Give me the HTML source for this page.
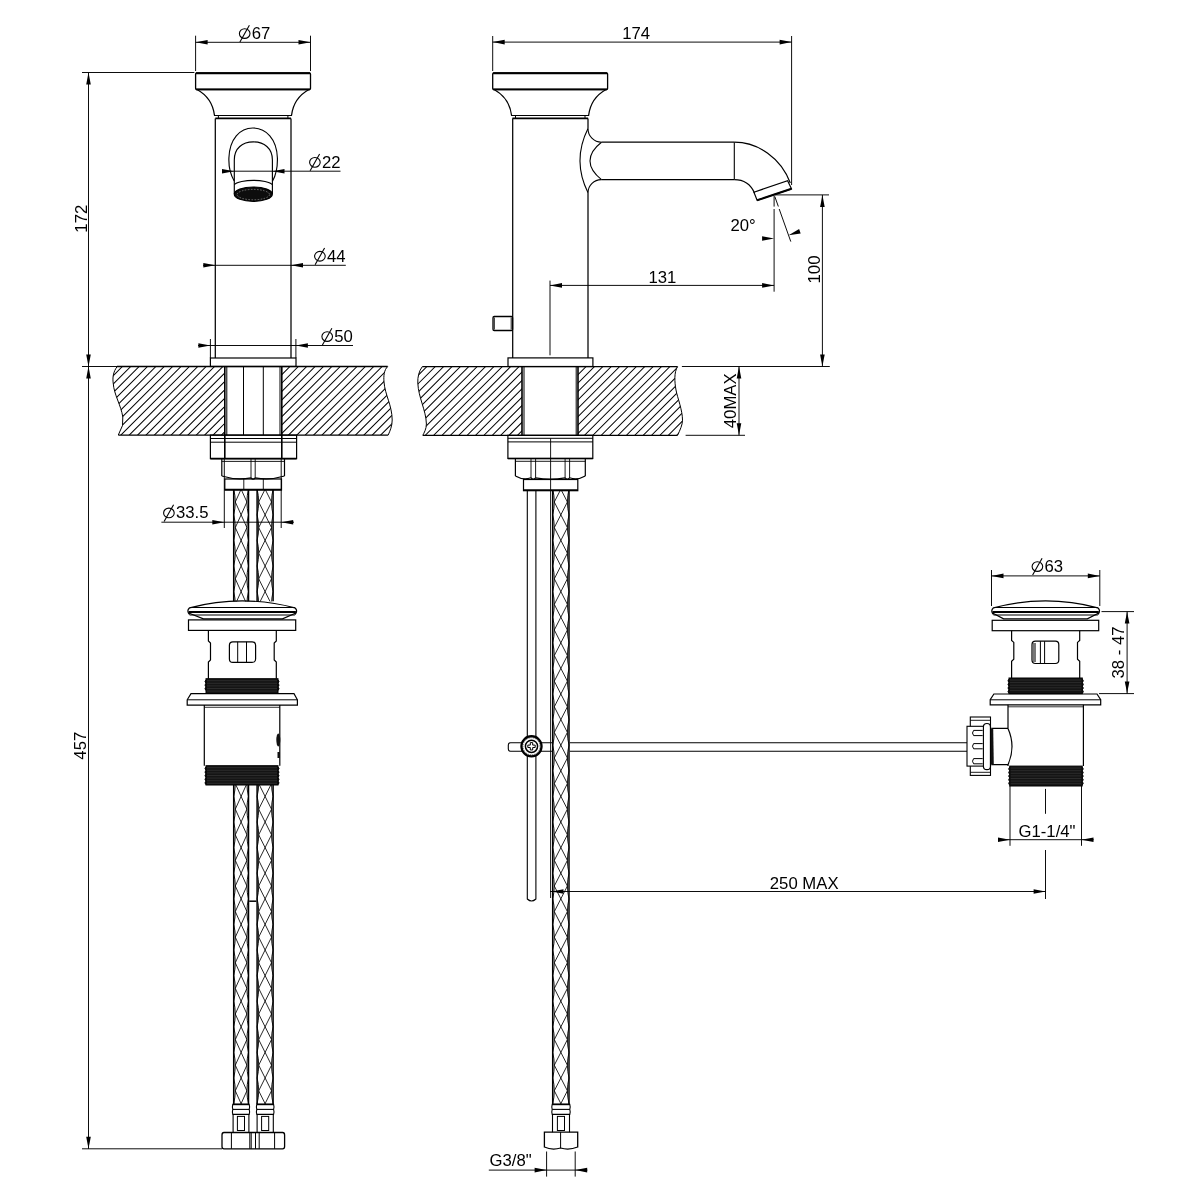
<!DOCTYPE html>
<html><head><meta charset="utf-8"><style>
html,body{margin:0;padding:0;background:#fff;}
svg{display:block;will-change:transform;}
text{font-family:"Liberation Sans",sans-serif;fill:#000;stroke:none;}
</style></head><body>
<svg width="1195" height="1195" viewBox="0 0 1195 1195" stroke="#000" stroke-linecap="butt">
<rect x="0" y="0" width="1195" height="1195" fill="#fff" stroke="none"/>
<rect x="195.60" y="73.00" width="114.90" height="16.50" stroke-width="1.3" fill="none" rx="1"/>
<line x1="196.00" y1="73.20" x2="310.00" y2="73.20" stroke-width="2.0" />
<line x1="196.00" y1="89.30" x2="310.00" y2="89.30" stroke-width="1.8" />
<path d="M197,89.5 C207,95 213,103 214.5,115.5" stroke-width="1.25" fill="none" />
<path d="M309,89.5 C299,95 293,103 291.5,115.5" stroke-width="1.25" fill="none" />
<line x1="214.00" y1="115.50" x2="292.00" y2="115.50" stroke-width="1.1" />
<line x1="218.40" y1="115.50" x2="218.40" y2="118.20" stroke-width="1.0" />
<line x1="287.90" y1="115.50" x2="287.90" y2="118.20" stroke-width="1.0" />
<line x1="215.30" y1="118.40" x2="291.00" y2="118.40" stroke-width="1.8" />
<line x1="215.30" y1="118.40" x2="215.30" y2="358.00" stroke-width="1.25" />
<line x1="291.00" y1="118.40" x2="291.00" y2="358.00" stroke-width="1.25" />
<path d="M234.2,181 C230,174 228.6,166 228.9,158 C229.5,139 240,128 252.8,128 C266,128 276.8,139 277.4,158 C277.6,166 276.4,174 272.6,181" stroke-width="1.15" fill="none" />
<path d="M234.3,181 L234.3,160 C234.3,148 242.5,141.9 253.3,141.9 C264,141.9 272.4,148 272.4,160 L272.4,181" stroke-width="1.15" fill="none" />
<path d="M234.3,184.8 C236,182 246,180.3 253.3,180.3 C261,180.3 270.5,182 272.4,184.8" stroke-width="1.15" fill="none" />
<path d="M234.3,181 L234.3,194 M272.4,181 L272.4,194" stroke-width="1.15" fill="none" />
<ellipse cx="253.3" cy="194.2" rx="19.0" ry="7.2" stroke-width="1.2" fill="#0d0d0d"/>
<ellipse cx="253.3" cy="194.6" rx="16.2" ry="5.2" stroke="#aaa" stroke-width="0.6" stroke-dasharray="1.6 1.4" fill="none"/>
<line x1="195.60" y1="35.70" x2="195.60" y2="71.00" stroke-width="0.95" />
<line x1="310.50" y1="35.70" x2="310.50" y2="71.00" stroke-width="0.95" />
<line x1="195.60" y1="42.30" x2="310.50" y2="42.30" stroke-width="0.95" />
<polygon points="195.60,42.30 207.60,40.00 207.60,44.60" fill="#000" stroke="none"/>
<polygon points="310.50,42.30 298.50,44.60 298.50,40.00" fill="#000" stroke="none"/>
<ellipse cx="244.70" cy="33.55" rx="5.3" ry="4.85" stroke-width="1.1" fill="none"/>
<line x1="239.90" y1="42.05" x2="249.40" y2="25.25" stroke-width="1.1" />
<text x="0" y="0" font-size="16" text-anchor="start" transform="translate(251.70 38.80) scale(1.045 1)" >67</text>
<line x1="222.00" y1="171.20" x2="340.50" y2="171.20" stroke-width="0.95" />
<polygon points="234.00,171.20 222.00,173.50 222.00,168.90" fill="#000" stroke="none"/>
<polygon points="272.50,171.20 284.50,168.90 284.50,173.50" fill="#000" stroke="none"/>
<ellipse cx="314.90" cy="162.35" rx="5.3" ry="4.85" stroke-width="1.1" fill="none"/>
<line x1="310.10" y1="170.85" x2="319.60" y2="154.05" stroke-width="1.1" />
<text x="0" y="0" font-size="16" text-anchor="start" transform="translate(321.90 167.60) scale(1.045 1)" >22</text>
<line x1="203.00" y1="265.30" x2="345.80" y2="265.30" stroke-width="0.95" />
<polygon points="215.30,265.30 203.30,267.60 203.30,263.00" fill="#000" stroke="none"/>
<polygon points="291.00,265.30 303.00,263.00 303.00,267.60" fill="#000" stroke="none"/>
<ellipse cx="319.90" cy="256.25" rx="5.3" ry="4.85" stroke-width="1.1" fill="none"/>
<line x1="315.10" y1="264.75" x2="324.60" y2="247.95" stroke-width="1.1" />
<text x="0" y="0" font-size="16" text-anchor="start" transform="translate(326.90 261.50) scale(1.045 1)" >44</text>
<line x1="198.00" y1="345.50" x2="353.00" y2="345.50" stroke-width="0.95" />
<line x1="210.40" y1="339.00" x2="210.40" y2="358.00" stroke-width="0.95" />
<line x1="295.90" y1="339.00" x2="295.90" y2="358.00" stroke-width="0.95" />
<polygon points="210.40,345.50 198.40,347.80 198.40,343.20" fill="#000" stroke="none"/>
<polygon points="295.90,345.50 307.90,343.20 307.90,347.80" fill="#000" stroke="none"/>
<ellipse cx="327.20" cy="336.55" rx="5.3" ry="4.85" stroke-width="1.1" fill="none"/>
<line x1="322.40" y1="345.05" x2="331.90" y2="328.25" stroke-width="1.1" />
<text x="0" y="0" font-size="16" text-anchor="start" transform="translate(334.20 341.80) scale(1.045 1)" >50</text>
<rect x="210.40" y="358.00" width="85.60" height="8.50" stroke-width="1.2" fill="none"/>
<line x1="82.00" y1="72.50" x2="194.40" y2="72.50" stroke-width="0.95" />
<line x1="88.50" y1="72.50" x2="88.50" y2="1148.80" stroke-width="0.95" />
<polygon points="88.50,72.50 90.80,84.50 86.20,84.50" fill="#000" stroke="none"/>
<polygon points="88.50,366.50 86.20,354.50 90.80,354.50" fill="#000" stroke="none"/>
<polygon points="88.50,366.50 90.80,378.50 86.20,378.50" fill="#000" stroke="none"/>
<polygon points="88.50,1148.80 86.20,1136.80 90.80,1136.80" fill="#000" stroke="none"/>
<text x="0" y="0" font-size="16" text-anchor="middle" transform="translate(86.50 218.70) rotate(-90) scale(1.045 1)" >172</text>
<text x="0" y="0" font-size="16" text-anchor="middle" transform="translate(86.30 745.70) rotate(-90) scale(1.045 1)" >457</text>
<line x1="82.00" y1="366.50" x2="117.00" y2="366.50" stroke-width="0.95" />
<line x1="82.00" y1="1148.80" x2="222.00" y2="1148.80" stroke-width="0.95" />
<clipPath id="slabF"><path d="M117,366.5 L224.8,366.5 L224.8,435 L118.3,435 L122.5,425.5 L122.8,417 C121,405 114,395 113.2,383 C112.5,378 113,372 117.2,366.5 Z M281.5,366.5 L387.7,366.5 C384,370 383.5,376 384,382 C385,395 392,405 392.2,420 C392.2,426 390,431 388.2,435 L281.5,435 Z"/></clipPath>
<path d="M36.14,436.00L106.14,366.00M44.52,436.00L114.52,366.00M52.90,436.00L122.90,366.00M61.28,436.00L131.28,366.00M69.66,436.00L139.66,366.00M78.04,436.00L148.04,366.00M86.42,436.00L156.42,366.00M94.80,436.00L164.80,366.00M103.18,436.00L173.18,366.00M111.56,436.00L181.56,366.00M119.94,436.00L189.94,366.00M128.32,436.00L198.32,366.00M136.70,436.00L206.70,366.00M145.08,436.00L215.08,366.00M153.46,436.00L223.46,366.00M161.84,436.00L231.84,366.00M170.22,436.00L240.22,366.00M178.60,436.00L248.60,366.00M186.98,436.00L256.98,366.00M195.36,436.00L265.36,366.00M203.74,436.00L273.74,366.00M212.12,436.00L282.12,366.00M220.50,436.00L290.50,366.00M228.88,436.00L298.88,366.00M237.26,436.00L307.26,366.00M245.64,436.00L315.64,366.00M254.02,436.00L324.02,366.00M262.40,436.00L332.40,366.00M270.78,436.00L340.78,366.00M279.16,436.00L349.16,366.00M287.54,436.00L357.54,366.00M295.92,436.00L365.92,366.00M304.30,436.00L374.30,366.00M312.68,436.00L382.68,366.00M321.06,436.00L391.06,366.00M329.44,436.00L399.44,366.00M337.82,436.00L407.82,366.00M346.20,436.00L416.20,366.00M354.58,436.00L424.58,366.00M362.96,436.00L432.96,366.00M371.34,436.00L441.34,366.00M379.72,436.00L449.72,366.00M388.10,436.00L458.10,366.00" stroke-width="1.05" fill="none" clip-path="url(#slabF)"/>
<path d="M117.2,366.5 C113,372 112.5,378 113.2,383 C114,395 121,405 122.8,417 L122.5,425.5 L118.3,435" stroke-width="1.0" fill="none" />
<path d="M387.7,366.5 C384,370 383.5,376 384,382 C385,395 392,405 392.2,420 C392.2,426 390,431 388.2,435" stroke-width="1.0" fill="none" />
<line x1="117.00" y1="366.50" x2="387.70" y2="366.50" stroke-width="1.3" />
<line x1="118.30" y1="435.10" x2="388.20" y2="435.10" stroke-width="1.3" />
<line x1="224.80" y1="366.50" x2="224.80" y2="458.60" stroke-width="1.6" />
<line x1="226.80" y1="366.50" x2="226.80" y2="435.00" stroke-width="1.0" />
<line x1="280.00" y1="366.50" x2="280.00" y2="435.00" stroke-width="1.0" />
<line x1="281.80" y1="366.50" x2="281.80" y2="458.60" stroke-width="1.6" />
<line x1="243.50" y1="366.50" x2="243.50" y2="435.00" stroke-width="1.0" />
<line x1="263.30" y1="366.50" x2="263.30" y2="435.00" stroke-width="1.0" />
<rect x="210.40" y="435.10" width="86.20" height="23.50" stroke-width="1.2" fill="none"/>
<line x1="210.40" y1="438.50" x2="296.60" y2="438.50" stroke-width="1.0" />
<line x1="210.40" y1="442.20" x2="296.60" y2="442.20" stroke-width="1.0" />
<line x1="210.40" y1="458.60" x2="296.60" y2="458.60" stroke-width="1.6" />
<path d="M221.8,458.6 L221.8,476 M284.5,458.6 L284.5,476" stroke-width="1.2" fill="none" />
<line x1="221.80" y1="461.40" x2="284.50" y2="461.40" stroke-width="0.9" />
<path d="M221.8,476 Q236.40,480.50 251.00,477.80 Q253.10,480.50 255.20,477.80 Q269.85,480.50 284.50,476.00" stroke-width="1.2" fill="none" />
<line x1="251.00" y1="458.60" x2="251.00" y2="477.80" stroke-width="0.9" />
<line x1="255.20" y1="458.60" x2="255.20" y2="477.80" stroke-width="0.9" />
<rect x="224.80" y="479.00" width="56.70" height="11.00" stroke-width="1.2" fill="none"/>
<line x1="224.80" y1="489.60" x2="281.50" y2="489.60" stroke-width="1.8" />
<line x1="243.80" y1="479.00" x2="243.80" y2="490.00" stroke-width="0.9" />
<line x1="263.30" y1="479.00" x2="263.30" y2="490.00" stroke-width="0.9" />
<line x1="224.30" y1="458.60" x2="224.30" y2="528.00" stroke-width="0.95" />
<line x1="281.20" y1="458.60" x2="281.20" y2="528.00" stroke-width="0.95" />
<line x1="161.40" y1="522.20" x2="294.00" y2="522.20" stroke-width="0.95" />
<polygon points="224.30,522.20 212.30,524.50 212.30,519.90" fill="#000" stroke="none"/>
<polygon points="281.20,522.20 293.20,519.90 293.20,524.50" fill="#000" stroke="none"/>
<ellipse cx="168.90" cy="512.95" rx="5.3" ry="4.85" stroke-width="1.1" fill="none"/>
<line x1="164.10" y1="521.45" x2="173.60" y2="504.65" stroke-width="1.1" />
<text x="0" y="0" font-size="16" text-anchor="start" transform="translate(175.90 518.20) scale(1.045 1)" >33.5</text>
<clipPath id="hc2330_490"><rect x="232.00" y="490.00" width="18.20" height="111.50"/></clipPath>
<g clip-path="url(#hc2330_490)">
<path d="M235.30,450.80L246.90,476.40L235.30,502.00L246.90,527.60L235.30,553.20L246.90,578.80L235.30,604.40L246.90,630.00M246.90,450.80L235.30,476.40L246.90,502.00L235.30,527.60L246.90,553.20L235.30,578.80L246.90,604.40L235.30,630.00" stroke-width="0.85" fill="none" />
<path d="M233.70,463.60Q236.90,476.40 233.70,489.20M248.50,463.60Q245.30,476.40 248.50,489.20M233.70,489.20Q236.90,502.00 233.70,514.80M248.50,489.20Q245.30,502.00 248.50,514.80M233.70,514.80Q236.90,527.60 233.70,540.40M248.50,514.80Q245.30,527.60 248.50,540.40M233.70,540.40Q236.90,553.20 233.70,566.00M248.50,540.40Q245.30,553.20 248.50,566.00M233.70,566.00Q236.90,578.80 233.70,591.60M248.50,566.00Q245.30,578.80 248.50,591.60M233.70,591.60Q236.90,604.40 233.70,617.20M248.50,591.60Q245.30,604.40 248.50,617.20M233.70,617.20Q236.90,630.00 233.70,642.80M248.50,617.20Q245.30,630.00 248.50,642.80M233.70,642.80Q236.90,655.60 233.70,668.40M248.50,642.80Q245.30,655.60 248.50,668.40" stroke-width="0.9" fill="none" />
<line x1="233.70" y1="490.00" x2="233.70" y2="601.50" stroke-width="1.5" />
<line x1="248.50" y1="490.00" x2="248.50" y2="601.50" stroke-width="1.5" />
</g>
<clipPath id="hc2564_490"><rect x="255.40" y="490.00" width="19.40" height="111.50"/></clipPath>
<g clip-path="url(#hc2564_490)">
<path d="M258.70,450.80L271.50,476.40L258.70,502.00L271.50,527.60L258.70,553.20L271.50,578.80L258.70,604.40L271.50,630.00M271.50,450.80L258.70,476.40L271.50,502.00L258.70,527.60L271.50,553.20L258.70,578.80L271.50,604.40L258.70,630.00" stroke-width="0.85" fill="none" />
<path d="M257.10,463.60Q260.30,476.40 257.10,489.20M273.10,463.60Q269.90,476.40 273.10,489.20M257.10,489.20Q260.30,502.00 257.10,514.80M273.10,489.20Q269.90,502.00 273.10,514.80M257.10,514.80Q260.30,527.60 257.10,540.40M273.10,514.80Q269.90,527.60 273.10,540.40M257.10,540.40Q260.30,553.20 257.10,566.00M273.10,540.40Q269.90,553.20 273.10,566.00M257.10,566.00Q260.30,578.80 257.10,591.60M273.10,566.00Q269.90,578.80 273.10,591.60M257.10,591.60Q260.30,604.40 257.10,617.20M273.10,591.60Q269.90,604.40 273.10,617.20M257.10,617.20Q260.30,630.00 257.10,642.80M273.10,617.20Q269.90,630.00 273.10,642.80M257.10,642.80Q260.30,655.60 257.10,668.40M273.10,642.80Q269.90,655.60 273.10,668.40" stroke-width="0.9" fill="none" />
<line x1="257.10" y1="490.00" x2="257.10" y2="601.50" stroke-width="1.5" />
<line x1="273.10" y1="490.00" x2="273.10" y2="601.50" stroke-width="1.5" />
</g>
<path d="M189.6,607.8 Q242.25,594 294.9,607.8" stroke-width="1.2" fill="none" />
<path d="M189.6,607.8 Q186.1,611 189.6,614.6 M294.9,607.8 Q298.4,611 294.9,614.6" stroke-width="1.2" fill="none" />
<line x1="189.60" y1="607.50" x2="294.90" y2="607.50" stroke-width="1.0" />
<line x1="188.60" y1="612.10" x2="295.90" y2="612.10" stroke-width="2.0" />
<line x1="189.60" y1="615.00" x2="294.90" y2="615.00" stroke-width="1.0" />
<path d="M188.6,613 L203.4,618.8 L282.5,618.8 L295.9,613" stroke-width="1.2" fill="none" />
<rect x="188.50" y="619.90" width="107.20" height="10.50" stroke-width="1.2" fill="none"/>
<path d="M208.4,630.4 L208.4,641 L210.5,643 L210.5,660 L208.4,662 L208.4,678.7 M276.3,630.4 L276.3,641 L274.2,643 L274.2,660 L276.3,662 L276.3,678.7" stroke-width="1.2" fill="none" />
<rect x="229.40" y="641.80" width="26.20" height="20.60" stroke-width="1.2" fill="none" rx="3.5"/>
<line x1="237.70" y1="641.80" x2="237.70" y2="662.40" stroke-width="1.0" />
<line x1="246.50" y1="641.80" x2="246.50" y2="662.40" stroke-width="1.0" />
<path d="M206.00,679.70 Q203.80,681.50 206.00,683.30 M278.00,679.70 Q280.20,681.50 278.00,683.30 M206.00,683.30 Q203.80,685.10 206.00,686.90 M278.00,683.30 Q280.20,685.10 278.00,686.90 M206.00,686.90 Q203.80,688.70 206.00,690.50 M278.00,686.90 Q280.20,688.70 278.00,690.50 " fill="#1a1a1a" stroke="#000" stroke-width="0.8"/>
<rect x="206.00" y="678.70" width="72.00" height="14.10" fill="#141414" stroke="#000" stroke-width="1"/>
<line x1="207.00" y1="680.70" x2="277.00" y2="680.70" stroke="#3a3a3a" stroke-width="0.6"/>
<line x1="207.00" y1="683.30" x2="277.00" y2="683.30" stroke="#3a3a3a" stroke-width="0.6"/>
<line x1="207.00" y1="685.90" x2="277.00" y2="685.90" stroke="#3a3a3a" stroke-width="0.6"/>
<line x1="207.00" y1="688.50" x2="277.00" y2="688.50" stroke="#3a3a3a" stroke-width="0.6"/>
<line x1="207.00" y1="691.10" x2="277.00" y2="691.10" stroke="#3a3a3a" stroke-width="0.6"/>
<path d="M191,693.7 L294,693.7 L297.4,699.8 L297.4,705.1 L187.2,705.1 L187.2,699.8 Z" stroke-width="1.2" fill="none" />
<line x1="187.20" y1="699.80" x2="297.40" y2="699.80" stroke-width="1.0" />
<line x1="204.30" y1="705.10" x2="204.30" y2="765.70" stroke-width="1.2" />
<line x1="279.80" y1="705.10" x2="279.80" y2="765.70" stroke-width="1.2" />
<line x1="204.30" y1="707.30" x2="279.80" y2="707.30" stroke-width="0.8" />
<ellipse cx="278.3" cy="740" rx="2" ry="6.5" fill="#111" stroke="none"/>
<rect x="277.50" y="752.00" width="2.50" height="6.00" stroke-width="0" fill="#111"/>
<path d="M206.00,766.70 Q203.80,768.50 206.00,770.30 M278.00,766.70 Q280.20,768.50 278.00,770.30 M206.00,770.30 Q203.80,772.10 206.00,773.90 M278.00,770.30 Q280.20,772.10 278.00,773.90 M206.00,773.90 Q203.80,775.70 206.00,777.50 M278.00,773.90 Q280.20,775.70 278.00,777.50 M206.00,777.50 Q203.80,779.30 206.00,781.10 M278.00,777.50 Q280.20,779.30 278.00,781.10 M206.00,781.10 Q203.80,782.90 206.00,784.70 M278.00,781.10 Q280.20,782.90 278.00,784.70 " fill="#1a1a1a" stroke="#000" stroke-width="0.8"/>
<rect x="206.00" y="765.70" width="72.00" height="19.30" fill="#141414" stroke="#000" stroke-width="1"/>
<line x1="207.00" y1="767.70" x2="277.00" y2="767.70" stroke="#3a3a3a" stroke-width="0.6"/>
<line x1="207.00" y1="770.30" x2="277.00" y2="770.30" stroke="#3a3a3a" stroke-width="0.6"/>
<line x1="207.00" y1="772.90" x2="277.00" y2="772.90" stroke="#3a3a3a" stroke-width="0.6"/>
<line x1="207.00" y1="775.50" x2="277.00" y2="775.50" stroke="#3a3a3a" stroke-width="0.6"/>
<line x1="207.00" y1="778.10" x2="277.00" y2="778.10" stroke="#3a3a3a" stroke-width="0.6"/>
<line x1="207.00" y1="780.70" x2="277.00" y2="780.70" stroke="#3a3a3a" stroke-width="0.6"/>
<line x1="207.00" y1="783.30" x2="277.00" y2="783.30" stroke="#3a3a3a" stroke-width="0.6"/>
<clipPath id="hc2330_785"><rect x="232.00" y="785.00" width="18.20" height="319.00"/></clipPath>
<g clip-path="url(#hc2330_785)">
<path d="M246.90,732.40L235.30,758.00L246.90,783.60L235.30,809.20L246.90,834.80L235.30,860.40L246.90,886.00L235.30,911.60L246.90,937.20L235.30,962.80L246.90,988.40L235.30,1014.00L246.90,1039.60L235.30,1065.20L246.90,1090.80L235.30,1116.40L246.90,1142.00M235.30,732.40L246.90,758.00L235.30,783.60L246.90,809.20L235.30,834.80L246.90,860.40L235.30,886.00L246.90,911.60L235.30,937.20L246.90,962.80L235.30,988.40L246.90,1014.00L235.30,1039.60L246.90,1065.20L235.30,1090.80L246.90,1116.40L235.30,1142.00" stroke-width="0.85" fill="none" />
<path d="M233.70,745.20Q236.90,758.00 233.70,770.80M248.50,745.20Q245.30,758.00 248.50,770.80M233.70,770.80Q236.90,783.60 233.70,796.40M248.50,770.80Q245.30,783.60 248.50,796.40M233.70,796.40Q236.90,809.20 233.70,822.00M248.50,796.40Q245.30,809.20 248.50,822.00M233.70,822.00Q236.90,834.80 233.70,847.60M248.50,822.00Q245.30,834.80 248.50,847.60M233.70,847.60Q236.90,860.40 233.70,873.20M248.50,847.60Q245.30,860.40 248.50,873.20M233.70,873.20Q236.90,886.00 233.70,898.80M248.50,873.20Q245.30,886.00 248.50,898.80M233.70,898.80Q236.90,911.60 233.70,924.40M248.50,898.80Q245.30,911.60 248.50,924.40M233.70,924.40Q236.90,937.20 233.70,950.00M248.50,924.40Q245.30,937.20 248.50,950.00M233.70,950.00Q236.90,962.80 233.70,975.60M248.50,950.00Q245.30,962.80 248.50,975.60M233.70,975.60Q236.90,988.40 233.70,1001.20M248.50,975.60Q245.30,988.40 248.50,1001.20M233.70,1001.20Q236.90,1014.00 233.70,1026.80M248.50,1001.20Q245.30,1014.00 248.50,1026.80M233.70,1026.80Q236.90,1039.60 233.70,1052.40M248.50,1026.80Q245.30,1039.60 248.50,1052.40M233.70,1052.40Q236.90,1065.20 233.70,1078.00M248.50,1052.40Q245.30,1065.20 248.50,1078.00M233.70,1078.00Q236.90,1090.80 233.70,1103.60M248.50,1078.00Q245.30,1090.80 248.50,1103.60M233.70,1103.60Q236.90,1116.40 233.70,1129.20M248.50,1103.60Q245.30,1116.40 248.50,1129.20M233.70,1129.20Q236.90,1142.00 233.70,1154.80M248.50,1129.20Q245.30,1142.00 248.50,1154.80M233.70,1154.80Q236.90,1167.60 233.70,1180.40M248.50,1154.80Q245.30,1167.60 248.50,1180.40" stroke-width="0.9" fill="none" />
<line x1="233.70" y1="785.00" x2="233.70" y2="1104.00" stroke-width="1.5" />
<line x1="248.50" y1="785.00" x2="248.50" y2="1104.00" stroke-width="1.5" />
</g>
<clipPath id="hc2564_785"><rect x="255.40" y="785.00" width="19.40" height="319.00"/></clipPath>
<g clip-path="url(#hc2564_785)">
<path d="M271.50,732.40L258.70,758.00L271.50,783.60L258.70,809.20L271.50,834.80L258.70,860.40L271.50,886.00L258.70,911.60L271.50,937.20L258.70,962.80L271.50,988.40L258.70,1014.00L271.50,1039.60L258.70,1065.20L271.50,1090.80L258.70,1116.40L271.50,1142.00M258.70,732.40L271.50,758.00L258.70,783.60L271.50,809.20L258.70,834.80L271.50,860.40L258.70,886.00L271.50,911.60L258.70,937.20L271.50,962.80L258.70,988.40L271.50,1014.00L258.70,1039.60L271.50,1065.20L258.70,1090.80L271.50,1116.40L258.70,1142.00" stroke-width="0.85" fill="none" />
<path d="M257.10,745.20Q260.30,758.00 257.10,770.80M273.10,745.20Q269.90,758.00 273.10,770.80M257.10,770.80Q260.30,783.60 257.10,796.40M273.10,770.80Q269.90,783.60 273.10,796.40M257.10,796.40Q260.30,809.20 257.10,822.00M273.10,796.40Q269.90,809.20 273.10,822.00M257.10,822.00Q260.30,834.80 257.10,847.60M273.10,822.00Q269.90,834.80 273.10,847.60M257.10,847.60Q260.30,860.40 257.10,873.20M273.10,847.60Q269.90,860.40 273.10,873.20M257.10,873.20Q260.30,886.00 257.10,898.80M273.10,873.20Q269.90,886.00 273.10,898.80M257.10,898.80Q260.30,911.60 257.10,924.40M273.10,898.80Q269.90,911.60 273.10,924.40M257.10,924.40Q260.30,937.20 257.10,950.00M273.10,924.40Q269.90,937.20 273.10,950.00M257.10,950.00Q260.30,962.80 257.10,975.60M273.10,950.00Q269.90,962.80 273.10,975.60M257.10,975.60Q260.30,988.40 257.10,1001.20M273.10,975.60Q269.90,988.40 273.10,1001.20M257.10,1001.20Q260.30,1014.00 257.10,1026.80M273.10,1001.20Q269.90,1014.00 273.10,1026.80M257.10,1026.80Q260.30,1039.60 257.10,1052.40M273.10,1026.80Q269.90,1039.60 273.10,1052.40M257.10,1052.40Q260.30,1065.20 257.10,1078.00M273.10,1052.40Q269.90,1065.20 273.10,1078.00M257.10,1078.00Q260.30,1090.80 257.10,1103.60M273.10,1078.00Q269.90,1090.80 273.10,1103.60M257.10,1103.60Q260.30,1116.40 257.10,1129.20M273.10,1103.60Q269.90,1116.40 273.10,1129.20M257.10,1129.20Q260.30,1142.00 257.10,1154.80M273.10,1129.20Q269.90,1142.00 273.10,1154.80M257.10,1154.80Q260.30,1167.60 257.10,1180.40M273.10,1154.80Q269.90,1167.60 273.10,1180.40" stroke-width="0.9" fill="none" />
<line x1="257.10" y1="785.00" x2="257.10" y2="1104.00" stroke-width="1.5" />
<line x1="273.10" y1="785.00" x2="273.10" y2="1104.00" stroke-width="1.5" />
</g>
<line x1="249.20" y1="901.20" x2="256.40" y2="901.20" stroke-width="1.5" />
<path d="M232.8,1104.4 Q232.0,1106.9 232.8,1109.4 Q232.0,1111.9 232.8,1114.4 L249.2,1114.4 Q250.0,1111.9 249.2,1109.4 Q250.0,1106.9 249.2,1104.4 Z" stroke-width="1.1" fill="none" />
<line x1="232.80" y1="1104.40" x2="249.20" y2="1104.40" stroke-width="1.6" />
<line x1="232.80" y1="1109.40" x2="249.20" y2="1109.40" stroke-width="1.1" />
<path d="M233.10000000000002,1114.4 L233.10000000000002,1132.2 M248.89999999999998,1114.4 L248.89999999999998,1132.2" stroke-width="1.1" fill="none" />
<rect x="237.40" y="1116.40" width="7.10" height="14.10" stroke-width="1.0" fill="none"/>
<path d="M256.8,1104.4 Q256.0,1106.9 256.8,1109.4 Q256.0,1111.9 256.8,1114.4 L273.6,1114.4 Q274.40000000000003,1111.9 273.6,1109.4 Q274.40000000000003,1106.9 273.6,1104.4 Z" stroke-width="1.1" fill="none" />
<line x1="256.80" y1="1104.40" x2="273.60" y2="1104.40" stroke-width="1.6" />
<line x1="256.80" y1="1109.40" x2="273.60" y2="1109.40" stroke-width="1.1" />
<path d="M257.1,1114.4 L257.1,1132.2 M273.3,1114.4 L273.3,1132.2" stroke-width="1.1" fill="none" />
<rect x="261.60" y="1116.40" width="7.10" height="14.10" stroke-width="1.0" fill="none"/>
<path d="M224,1132.5 L282.6,1132.5 Q284.6,1132.5 284.6,1135 L284.6,1146.5 Q284.6,1148.8 282.6,1148.8 L224,1148.8 Q222,1148.8 222,1146.5 L222,1135 Q222,1132.5 224,1132.5 Z" stroke-width="1.3" fill="none" />
<line x1="231.40" y1="1132.50" x2="231.40" y2="1148.80" stroke-width="1.0" />
<line x1="249.80" y1="1132.50" x2="249.80" y2="1148.80" stroke-width="1.0" />
<line x1="251.20" y1="1132.50" x2="251.20" y2="1148.80" stroke-width="1.0" />
<line x1="255.50" y1="1132.50" x2="255.50" y2="1148.80" stroke-width="1.0" />
<line x1="259.20" y1="1132.50" x2="259.20" y2="1148.80" stroke-width="1.0" />
<line x1="274.60" y1="1132.50" x2="274.60" y2="1148.80" stroke-width="1.0" />
<line x1="492.70" y1="36.00" x2="492.70" y2="71.00" stroke-width="0.95" />
<line x1="791.60" y1="36.00" x2="791.60" y2="185.00" stroke-width="0.95" />
<line x1="492.70" y1="42.10" x2="791.60" y2="42.10" stroke-width="0.95" />
<polygon points="492.70,42.10 504.70,39.80 504.70,44.40" fill="#000" stroke="none"/>
<polygon points="791.60,42.10 779.60,44.40 779.60,39.80" fill="#000" stroke="none"/>
<text x="0" y="0" font-size="16" text-anchor="start" transform="translate(622.20 39.00) scale(1.045 1)" >174</text>
<rect x="492.70" y="73.00" width="114.90" height="16.50" stroke-width="1.3" fill="none" rx="1"/>
<line x1="493.10" y1="73.20" x2="607.10" y2="73.20" stroke-width="2.0" />
<line x1="493.10" y1="89.30" x2="607.10" y2="89.30" stroke-width="1.8" />
<path d="M494.1,89.5 C504.1,95 510.1,103 511.6,115.5" stroke-width="1.25" fill="none" />
<path d="M606.1,89.5 C596.1,95 590.1,103 588.6,115.5" stroke-width="1.25" fill="none" />
<line x1="511.10" y1="115.50" x2="589.10" y2="115.50" stroke-width="1.1" />
<line x1="515.50" y1="115.50" x2="515.50" y2="118.20" stroke-width="1.0" />
<line x1="585.00" y1="115.50" x2="585.00" y2="118.20" stroke-width="1.0" />
<line x1="512.40" y1="118.40" x2="588.10" y2="118.40" stroke-width="1.8" />
<line x1="512.70" y1="118.40" x2="512.70" y2="358.00" stroke-width="1.25" />
<line x1="588.00" y1="118.40" x2="588.00" y2="128.50" stroke-width="1.25" />
<line x1="588.00" y1="192.70" x2="588.00" y2="358.00" stroke-width="1.25" />
<path d="M588,128.5 Q572,160.6 588,192.7" stroke-width="1.1" fill="none" />
<path d="M588,128.5 A13.5,13.5 0 0 0 601.5,142.2" stroke-width="1.1" fill="none" />
<path d="M601.5,179.6 A13.2,13.2 0 0 0 588,192.7" stroke-width="1.1" fill="none" />
<path d="M601.5,142.2 C594,148 590,155 590,160.9 C590,167 594,173.5 601.5,179.6" stroke-width="1.1" fill="none" />
<line x1="601.50" y1="142.20" x2="734.30" y2="142.20" stroke-width="1.2" />
<line x1="601.50" y1="179.60" x2="734.30" y2="179.60" stroke-width="1.2" />
<line x1="734.30" y1="142.20" x2="734.30" y2="179.60" stroke-width="1.1" />
<path d="M734.3,142.2 C758,142.2 781,158 790.3,183" stroke-width="1.2" fill="none" />
<path d="M734.3,179.6 C744,179.6 751,185 754.5,193" stroke-width="1.2" fill="none" />
<path d="M753.9,192.2 L787.6,180.7 L791.5,188.8 L757.1,200.3 Z" stroke-width="1.2" fill="none" />
<line x1="757.10" y1="200.30" x2="791.50" y2="188.80" stroke-width="2.0" />
<line x1="774.50" y1="194.90" x2="829.00" y2="194.90" stroke-width="0.95" />
<line x1="822.40" y1="194.90" x2="822.40" y2="366.50" stroke-width="0.95" />
<polygon points="822.40,194.90 824.70,206.90 820.10,206.90" fill="#000" stroke="none"/>
<polygon points="822.40,366.50 820.10,354.50 824.70,354.50" fill="#000" stroke="none"/>
<text x="0" y="0" font-size="16" text-anchor="middle" transform="translate(820.00 269.50) rotate(-90) scale(1.045 1)" >100</text>
<line x1="681.90" y1="366.50" x2="829.80" y2="366.50" stroke-width="0.95" />
<line x1="774.10" y1="196.00" x2="774.10" y2="206.60" stroke-width="0.95" />
<line x1="774.10" y1="209.00" x2="774.10" y2="291.70" stroke-width="0.95" />
<line x1="774.80" y1="196.50" x2="778.35" y2="206.50" stroke-width="0.95" />
<line x1="779.20" y1="209.00" x2="790.80" y2="241.60" stroke-width="0.95" />
<polygon points="774.10,238.50 762.10,240.80 762.10,236.20" fill="#000" stroke="none"/>
<polygon points="788.60,235.30 799.10,229.06 800.67,233.38" fill="#000" stroke="none"/>
<text x="0" y="0" font-size="16" text-anchor="start" transform="translate(730.50 231.00) scale(1.045 1)" >20°</text>
<line x1="550.00" y1="285.40" x2="774.10" y2="285.40" stroke-width="0.95" />
<line x1="550.00" y1="280.60" x2="550.00" y2="355.30" stroke-width="0.95" />
<polygon points="550.00,285.40 562.00,283.10 562.00,287.70" fill="#000" stroke="none"/>
<polygon points="774.10,285.40 762.10,287.70 762.10,283.10" fill="#000" stroke="none"/>
<text x="0" y="0" font-size="16" text-anchor="start" transform="translate(648.50 282.80) scale(1.045 1)" >131</text>
<rect x="493.00" y="316.50" width="19.60" height="14.00" stroke-width="1.3" fill="none" rx="1.2"/>
<line x1="494.30" y1="317.50" x2="494.30" y2="329.50" stroke-width="0.9" />
<line x1="511.20" y1="317.50" x2="511.20" y2="329.50" stroke-width="0.9" />
<rect x="508.00" y="357.90" width="84.90" height="8.60" stroke-width="1.2" fill="none"/>
<clipPath id="slabS"><path d="M422.3,366.6 L522,366.6 L522,435.3 L422.8,435.3 C424,433 426.4,429 426.4,424 C426,410 418.5,398 417.8,383 C417.5,377 419,371 422.3,366.6 Z M577.8,366.6 L677.6,366.6 C674,372 674.5,382 676,390 C677.5,398 682.5,410 682.5,420.2 C682.5,425 680,430 677.6,435.3 L577.8,435.3 Z"/></clipPath>
<path d="M340.74,436.00L410.74,366.00M349.12,436.00L419.12,366.00M357.50,436.00L427.50,366.00M365.88,436.00L435.88,366.00M374.26,436.00L444.26,366.00M382.64,436.00L452.64,366.00M391.02,436.00L461.02,366.00M399.40,436.00L469.40,366.00M407.78,436.00L477.78,366.00M416.16,436.00L486.16,366.00M424.54,436.00L494.54,366.00M432.92,436.00L502.92,366.00M441.30,436.00L511.30,366.00M449.68,436.00L519.68,366.00M458.06,436.00L528.06,366.00M466.44,436.00L536.44,366.00M474.82,436.00L544.82,366.00M483.20,436.00L553.20,366.00M491.58,436.00L561.58,366.00M499.96,436.00L569.96,366.00M508.34,436.00L578.34,366.00M516.72,436.00L586.72,366.00M525.10,436.00L595.10,366.00M533.48,436.00L603.48,366.00M541.86,436.00L611.86,366.00M550.24,436.00L620.24,366.00M558.62,436.00L628.62,366.00M567.00,436.00L637.00,366.00M575.38,436.00L645.38,366.00M583.76,436.00L653.76,366.00M592.14,436.00L662.14,366.00M600.52,436.00L670.52,366.00M608.90,436.00L678.90,366.00M617.28,436.00L687.28,366.00M625.66,436.00L695.66,366.00M634.04,436.00L704.04,366.00M642.42,436.00L712.42,366.00M650.80,436.00L720.80,366.00M659.18,436.00L729.18,366.00M667.56,436.00L737.56,366.00M675.94,436.00L745.94,366.00M684.32,436.00L754.32,366.00" stroke-width="1.05" fill="none" clip-path="url(#slabS)"/>
<path d="M422.3,366.6 C419,371 417.5,377 417.8,383 C418.5,398 426,410 426.4,424 C426.4,429 424,433 422.8,435.3" stroke-width="1.0" fill="none" />
<path d="M677.6,366.6 C674,372 674.5,382 676,390 C677.5,398 682.5,410 682.5,420.2 C682.5,425 680,430 677.6,435.3" stroke-width="1.0" fill="none" />
<line x1="422.30" y1="366.60" x2="677.60" y2="366.60" stroke-width="1.3" />
<line x1="422.80" y1="435.30" x2="677.60" y2="435.30" stroke-width="1.3" />
<line x1="522.00" y1="366.60" x2="522.00" y2="435.30" stroke-width="1.6" />
<line x1="524.00" y1="366.60" x2="524.00" y2="435.30" stroke-width="1.0" />
<line x1="576.20" y1="366.60" x2="576.20" y2="435.30" stroke-width="1.0" />
<line x1="578.00" y1="366.60" x2="578.00" y2="435.30" stroke-width="1.6" />
<line x1="685.60" y1="435.30" x2="745.00" y2="435.30" stroke-width="0.95" />
<line x1="739.00" y1="366.60" x2="739.00" y2="435.30" stroke-width="0.95" />
<polygon points="739.00,366.60 741.30,378.60 736.70,378.60" fill="#000" stroke="none"/>
<polygon points="739.00,435.30 736.70,423.30 741.30,423.30" fill="#000" stroke="none"/>
<text x="0" y="0" font-size="16" text-anchor="middle" transform="translate(735.50 400.80) rotate(-90) scale(1.045 1)" >40MAX</text>
<rect x="507.90" y="435.30" width="84.90" height="23.20" stroke-width="1.2" fill="none"/>
<line x1="507.90" y1="438.30" x2="592.80" y2="438.30" stroke-width="1.0" />
<line x1="507.90" y1="441.90" x2="592.80" y2="441.90" stroke-width="1.0" />
<line x1="507.90" y1="458.50" x2="592.80" y2="458.50" stroke-width="1.6" />
<path d="M515.4,458.5 L515.4,476 M585.3,458.5 L585.3,476" stroke-width="1.2" fill="none" />
<line x1="515.40" y1="461.30" x2="585.30" y2="461.30" stroke-width="0.9" />
<path d="M515.4,476 Q523.20,480.50 531.00,477.80 Q533.30,480.50 535.60,477.80 Q550.35,480.50 565.10,477.80 Q567.35,480.50 569.60,477.80 Q577.45,480.50 585.30,476.00" stroke-width="1.2" fill="none" />
<line x1="531.00" y1="458.50" x2="531.00" y2="477.80" stroke-width="0.9" />
<line x1="535.60" y1="458.50" x2="535.60" y2="477.80" stroke-width="0.9" />
<line x1="565.10" y1="458.50" x2="565.10" y2="477.80" stroke-width="0.9" />
<line x1="569.60" y1="458.50" x2="569.60" y2="477.80" stroke-width="0.9" />
<rect x="523.50" y="479.50" width="54.30" height="11.20" stroke-width="1.2" fill="none"/>
<line x1="523.50" y1="490.20" x2="577.80" y2="490.20" stroke-width="1.8" />
<line x1="550.60" y1="438.50" x2="550.60" y2="898.00" stroke-width="0.9" />
<path d="M527.3,490.7 L527.3,899 Q531.6,903 535.9,899 L535.9,490.7" stroke-width="1.1" fill="none" />
<clipPath id="hc5520_490"><rect x="551.00" y="490.70" width="19.70" height="613.30"/></clipPath>
<g clip-path="url(#hc5520_490)">
<path d="M554.30,450.80L567.40,476.40L554.30,502.00L567.40,527.60L554.30,553.20L567.40,578.80L554.30,604.40L567.40,630.00L554.30,655.60L567.40,681.20L554.30,706.80L567.40,732.40L554.30,758.00L567.40,783.60L554.30,809.20L567.40,834.80L554.30,860.40L567.40,886.00L554.30,911.60L567.40,937.20L554.30,962.80L567.40,988.40L554.30,1014.00L567.40,1039.60L554.30,1065.20L567.40,1090.80L554.30,1116.40L567.40,1142.00M567.40,450.80L554.30,476.40L567.40,502.00L554.30,527.60L567.40,553.20L554.30,578.80L567.40,604.40L554.30,630.00L567.40,655.60L554.30,681.20L567.40,706.80L554.30,732.40L567.40,758.00L554.30,783.60L567.40,809.20L554.30,834.80L567.40,860.40L554.30,886.00L567.40,911.60L554.30,937.20L567.40,962.80L554.30,988.40L567.40,1014.00L554.30,1039.60L567.40,1065.20L554.30,1090.80L567.40,1116.40L554.30,1142.00" stroke-width="0.85" fill="none" />
<path d="M552.70,463.60Q555.90,476.40 552.70,489.20M569.00,463.60Q565.80,476.40 569.00,489.20M552.70,489.20Q555.90,502.00 552.70,514.80M569.00,489.20Q565.80,502.00 569.00,514.80M552.70,514.80Q555.90,527.60 552.70,540.40M569.00,514.80Q565.80,527.60 569.00,540.40M552.70,540.40Q555.90,553.20 552.70,566.00M569.00,540.40Q565.80,553.20 569.00,566.00M552.70,566.00Q555.90,578.80 552.70,591.60M569.00,566.00Q565.80,578.80 569.00,591.60M552.70,591.60Q555.90,604.40 552.70,617.20M569.00,591.60Q565.80,604.40 569.00,617.20M552.70,617.20Q555.90,630.00 552.70,642.80M569.00,617.20Q565.80,630.00 569.00,642.80M552.70,642.80Q555.90,655.60 552.70,668.40M569.00,642.80Q565.80,655.60 569.00,668.40M552.70,668.40Q555.90,681.20 552.70,694.00M569.00,668.40Q565.80,681.20 569.00,694.00M552.70,694.00Q555.90,706.80 552.70,719.60M569.00,694.00Q565.80,706.80 569.00,719.60M552.70,719.60Q555.90,732.40 552.70,745.20M569.00,719.60Q565.80,732.40 569.00,745.20M552.70,745.20Q555.90,758.00 552.70,770.80M569.00,745.20Q565.80,758.00 569.00,770.80M552.70,770.80Q555.90,783.60 552.70,796.40M569.00,770.80Q565.80,783.60 569.00,796.40M552.70,796.40Q555.90,809.20 552.70,822.00M569.00,796.40Q565.80,809.20 569.00,822.00M552.70,822.00Q555.90,834.80 552.70,847.60M569.00,822.00Q565.80,834.80 569.00,847.60M552.70,847.60Q555.90,860.40 552.70,873.20M569.00,847.60Q565.80,860.40 569.00,873.20M552.70,873.20Q555.90,886.00 552.70,898.80M569.00,873.20Q565.80,886.00 569.00,898.80M552.70,898.80Q555.90,911.60 552.70,924.40M569.00,898.80Q565.80,911.60 569.00,924.40M552.70,924.40Q555.90,937.20 552.70,950.00M569.00,924.40Q565.80,937.20 569.00,950.00M552.70,950.00Q555.90,962.80 552.70,975.60M569.00,950.00Q565.80,962.80 569.00,975.60M552.70,975.60Q555.90,988.40 552.70,1001.20M569.00,975.60Q565.80,988.40 569.00,1001.20M552.70,1001.20Q555.90,1014.00 552.70,1026.80M569.00,1001.20Q565.80,1014.00 569.00,1026.80M552.70,1026.80Q555.90,1039.60 552.70,1052.40M569.00,1026.80Q565.80,1039.60 569.00,1052.40M552.70,1052.40Q555.90,1065.20 552.70,1078.00M569.00,1052.40Q565.80,1065.20 569.00,1078.00M552.70,1078.00Q555.90,1090.80 552.70,1103.60M569.00,1078.00Q565.80,1090.80 569.00,1103.60M552.70,1103.60Q555.90,1116.40 552.70,1129.20M569.00,1103.60Q565.80,1116.40 569.00,1129.20M552.70,1129.20Q555.90,1142.00 552.70,1154.80M569.00,1129.20Q565.80,1142.00 569.00,1154.80M552.70,1154.80Q555.90,1167.60 552.70,1180.40M569.00,1154.80Q565.80,1167.60 569.00,1180.40" stroke-width="0.9" fill="none" />
<line x1="552.70" y1="490.70" x2="552.70" y2="1104.00" stroke-width="1.5" />
<line x1="569.00" y1="490.70" x2="569.00" y2="1104.00" stroke-width="1.5" />
</g>
<path d="M552,742.7 L510.5,742.7 Q508.3,742.7 508.3,745 L508.3,749 Q508.3,751.2 510.5,751.2 L552,751.2" stroke-width="1.1" fill="none" />
<line x1="569.70" y1="742.70" x2="967.00" y2="742.70" stroke-width="1.1" />
<line x1="569.70" y1="751.20" x2="967.00" y2="751.20" stroke-width="1.1" />
<circle cx="531.5" cy="746.3" r="10.1" fill="#fff" stroke-width="2.2"/>
<circle cx="531.5" cy="746.3" r="8.6" fill="none" stroke-width="0.7" stroke-dasharray="1.2 0.8"/>
<circle cx="531.5" cy="746.3" r="6.1" fill="none" stroke-width="1.5"/>
<path d="M530.3,742.6 L532.7,742.6 L532.7,745.1 L535.2,745.1 L535.2,747.5 L532.7,747.5 L532.7,750.0 L530.3,750.0 L530.3,747.5 L527.8,747.5 L527.8,745.1 L530.3,745.1 Z" stroke-width="1.0" fill="none" />
<line x1="550.00" y1="891.50" x2="1045.60" y2="891.50" stroke-width="0.95" />
<polygon points="551.50,891.50 563.50,889.20 563.50,893.80" fill="#000" stroke="none"/>
<polygon points="1045.60,891.50 1033.60,893.80 1033.60,889.20" fill="#000" stroke="none"/>
<text x="0" y="0" font-size="16" text-anchor="start" transform="translate(769.80 889.30) scale(1.045 1)" >250 MAX</text>
<line x1="1045.50" y1="850.00" x2="1045.50" y2="899.00" stroke-width="0.95" />
<line x1="1045.50" y1="788.90" x2="1045.50" y2="813.80" stroke-width="0.95" />
<path d="M552.2,1104.4 Q551.4000000000001,1106.9 552.2,1109.4 Q551.4000000000001,1111.9 552.2,1114.4 L569.8,1114.4 Q570.5999999999999,1111.9 569.8,1109.4 Q570.5999999999999,1106.9 569.8,1104.4 Z" stroke-width="1.1" fill="none" />
<line x1="552.20" y1="1104.40" x2="569.80" y2="1104.40" stroke-width="1.6" />
<line x1="552.20" y1="1109.40" x2="569.80" y2="1109.40" stroke-width="1.1" />
<path d="M552.5,1114.4 L552.5,1132.2 M569.5,1114.4 L569.5,1132.2" stroke-width="1.1" fill="none" />
<rect x="557.40" y="1116.40" width="7.10" height="14.10" stroke-width="1.0" fill="none"/>
<path d="M544.4,1132.1 L577.7,1132.1 L577.7,1147 Q569,1150.5 560.6,1148 Q552,1150.5 544.4,1147 Z" stroke-width="1.3" fill="none" />
<line x1="560.60" y1="1132.10" x2="560.60" y2="1148.00" stroke-width="1.0" />
<line x1="546.60" y1="1151.50" x2="546.60" y2="1176.60" stroke-width="0.95" />
<line x1="575.20" y1="1151.50" x2="575.20" y2="1176.60" stroke-width="0.95" />
<line x1="488.80" y1="1170.10" x2="587.40" y2="1170.10" stroke-width="0.95" />
<polygon points="546.60,1170.10 534.60,1172.40 534.60,1167.80" fill="#000" stroke="none"/>
<polygon points="575.20,1170.10 587.20,1167.80 587.20,1172.40" fill="#000" stroke="none"/>
<text x="0" y="0" font-size="16" text-anchor="start" transform="translate(489.50 1166.40) scale(1.045 1)" >G3/8"</text>
<line x1="991.50" y1="570.00" x2="991.50" y2="606.00" stroke-width="0.95" />
<line x1="1099.80" y1="570.00" x2="1099.80" y2="606.00" stroke-width="0.95" />
<line x1="991.50" y1="575.90" x2="1099.80" y2="575.90" stroke-width="0.95" />
<polygon points="991.50,575.90 1003.50,573.60 1003.50,578.20" fill="#000" stroke="none"/>
<polygon points="1099.80,575.90 1087.80,578.20 1087.80,573.60" fill="#000" stroke="none"/>
<ellipse cx="1037.40" cy="566.55" rx="5.3" ry="4.85" stroke-width="1.1" fill="none"/>
<line x1="1032.60" y1="575.05" x2="1042.10" y2="558.25" stroke-width="1.1" />
<text x="0" y="0" font-size="16" text-anchor="start" transform="translate(1044.40 571.80) scale(1.045 1)" >63</text>
<path d="M993.5,607.8 Q1045.65,594 1097.8,607.8" stroke-width="1.2" fill="none" />
<path d="M993.5,607.8 Q990.0,611 993.5,614.6 M1097.8,607.8 Q1101.3,611 1097.8,614.6" stroke-width="1.2" fill="none" />
<line x1="993.50" y1="607.50" x2="1097.80" y2="607.50" stroke-width="1.0" />
<line x1="992.50" y1="612.10" x2="1098.80" y2="612.10" stroke-width="2.0" />
<line x1="993.50" y1="615.00" x2="1097.80" y2="615.00" stroke-width="1.0" />
<path d="M992.5,613 L1003.6,618.8 L1087.3,618.8 L1098.8,613" stroke-width="1.2" fill="none" />
<rect x="992.20" y="620.30" width="106.50" height="10.40" stroke-width="1.2" fill="none"/>
<path d="M1011.6,630.7 L1011.6,640.4 L1013.8,642.4 L1013.8,659.3 L1011.6,661.3 L1011.6,678 M1079.7,630.7 L1079.7,640.4 L1077.5,642.4 L1077.5,659.3 L1079.7,661.3 L1079.7,678" stroke-width="1.2" fill="none" />
<rect x="1032.00" y="641.20" width="26.80" height="22.30" stroke-width="1.2" fill="none" rx="3.5"/>
<line x1="1040.40" y1="641.20" x2="1040.40" y2="663.50" stroke-width="1.0" />
<line x1="1044.60" y1="641.20" x2="1044.60" y2="663.50" stroke-width="1.0" />
<rect x="1033.00" y="643.00" width="3.00" height="19.00" stroke-width="0" fill="#777"/>
<path d="M1009.00,679.00 Q1006.80,680.80 1009.00,682.60 M1082.30,679.00 Q1084.50,680.80 1082.30,682.60 M1009.00,682.60 Q1006.80,684.40 1009.00,686.20 M1082.30,682.60 Q1084.50,684.40 1082.30,686.20 M1009.00,686.20 Q1006.80,688.00 1009.00,689.80 M1082.30,686.20 Q1084.50,688.00 1082.30,689.80 M1009.00,689.80 Q1006.80,691.60 1009.00,693.40 M1082.30,689.80 Q1084.50,691.60 1082.30,693.40 " fill="#1a1a1a" stroke="#000" stroke-width="0.8"/>
<rect x="1009.00" y="678.00" width="73.30" height="15.60" fill="#141414" stroke="#000" stroke-width="1"/>
<line x1="1010.00" y1="680.00" x2="1081.30" y2="680.00" stroke="#3a3a3a" stroke-width="0.6"/>
<line x1="1010.00" y1="682.60" x2="1081.30" y2="682.60" stroke="#3a3a3a" stroke-width="0.6"/>
<line x1="1010.00" y1="685.20" x2="1081.30" y2="685.20" stroke="#3a3a3a" stroke-width="0.6"/>
<line x1="1010.00" y1="687.80" x2="1081.30" y2="687.80" stroke="#3a3a3a" stroke-width="0.6"/>
<line x1="1010.00" y1="690.40" x2="1081.30" y2="690.40" stroke="#3a3a3a" stroke-width="0.6"/>
<line x1="1101.50" y1="611.60" x2="1134.00" y2="611.60" stroke-width="0.95" />
<line x1="1099.00" y1="693.60" x2="1134.00" y2="693.60" stroke-width="0.95" />
<line x1="1127.10" y1="611.60" x2="1127.10" y2="693.60" stroke-width="0.95" />
<polygon points="1127.10,611.60 1129.40,623.60 1124.80,623.60" fill="#000" stroke="none"/>
<polygon points="1127.10,693.60 1124.80,681.60 1129.40,681.60" fill="#000" stroke="none"/>
<text x="0" y="0" font-size="16" text-anchor="middle" transform="translate(1124.00 652.50) rotate(-90) scale(1.045 1)" >38 - 47</text>
<path d="M993.9,694 L1097,694 L1100.7,699.8 L1100.7,704.8 L990.2,704.8 L990.2,699.8 Z" stroke-width="1.2" fill="none" />
<line x1="990.20" y1="699.80" x2="1100.70" y2="699.80" stroke-width="1.0" />
<line x1="1008.00" y1="704.80" x2="1008.00" y2="728.40" stroke-width="1.2" />
<line x1="1008.00" y1="764.70" x2="1008.00" y2="766.10" stroke-width="1.2" />
<line x1="1083.40" y1="704.80" x2="1083.40" y2="766.10" stroke-width="1.2" />
<line x1="1008.00" y1="706.80" x2="1083.40" y2="706.80" stroke-width="0.8" />
<path d="M1009.70,767.10 Q1007.50,768.90 1009.70,770.70 M1082.20,767.10 Q1084.40,768.90 1082.20,770.70 M1009.70,770.70 Q1007.50,772.50 1009.70,774.30 M1082.20,770.70 Q1084.40,772.50 1082.20,774.30 M1009.70,774.30 Q1007.50,776.10 1009.70,777.90 M1082.20,774.30 Q1084.40,776.10 1082.20,777.90 M1009.70,777.90 Q1007.50,779.70 1009.70,781.50 M1082.20,777.90 Q1084.40,779.70 1082.20,781.50 M1009.70,781.50 Q1007.50,783.30 1009.70,785.10 M1082.20,781.50 Q1084.40,783.30 1082.20,785.10 " fill="#1a1a1a" stroke="#000" stroke-width="0.8"/>
<rect x="1009.70" y="766.10" width="72.50" height="19.90" fill="#141414" stroke="#000" stroke-width="1"/>
<line x1="1010.70" y1="768.10" x2="1081.20" y2="768.10" stroke="#3a3a3a" stroke-width="0.6"/>
<line x1="1010.70" y1="770.70" x2="1081.20" y2="770.70" stroke="#3a3a3a" stroke-width="0.6"/>
<line x1="1010.70" y1="773.30" x2="1081.20" y2="773.30" stroke="#3a3a3a" stroke-width="0.6"/>
<line x1="1010.70" y1="775.90" x2="1081.20" y2="775.90" stroke="#3a3a3a" stroke-width="0.6"/>
<line x1="1010.70" y1="778.50" x2="1081.20" y2="778.50" stroke="#3a3a3a" stroke-width="0.6"/>
<line x1="1010.70" y1="781.10" x2="1081.20" y2="781.10" stroke="#3a3a3a" stroke-width="0.6"/>
<line x1="1010.70" y1="783.70" x2="1081.20" y2="783.70" stroke="#3a3a3a" stroke-width="0.6"/>
<path d="M1008,728.4 L992,728.4 L992,764.7 L1008,764.7 Q1016,746.5 1008,728.4" stroke-width="1.2" fill="none" />
<rect x="983.40" y="723.50" width="7.10" height="46.20" stroke-width="1.2" fill="none" rx="3.5"/>
<rect x="970.30" y="717.00" width="20.20" height="58.40" stroke-width="1.1" fill="none"/>
<line x1="970.30" y1="720.30" x2="990.50" y2="720.30" stroke-width="0.9" />
<line x1="970.30" y1="772.30" x2="990.50" y2="772.30" stroke-width="0.9" />
<path d="M990.8,728.6 L993.2,728.6 L993.8,764.5 L990.8,764.5 Z" fill="#111" stroke="none"/>
<rect x="967.00" y="726.30" width="16.40" height="39.80" stroke-width="1.1" fill="#fff"/>
<path d="M982.7,730.4 L973.6,730.4 Q971.4,733 973.6,735.6 L982.7,735.6" stroke-width="1.0" fill="none" />
<path d="M982.7,743.6 L973.6,743.6 Q971.4,746.2 973.6,748.8000000000001 L982.7,748.8000000000001" stroke-width="1.0" fill="none" />
<path d="M982.7,758.6 L973.6,758.6 Q971.4,761.2 973.6,763.8000000000001 L982.7,763.8000000000001" stroke-width="1.0" fill="none" />
<line x1="1010.00" y1="786.00" x2="1010.00" y2="845.80" stroke-width="0.95" />
<line x1="1081.50" y1="786.00" x2="1081.50" y2="845.80" stroke-width="0.95" />
<line x1="998.00" y1="839.70" x2="1093.60" y2="839.70" stroke-width="0.95" />
<polygon points="1010.00,839.70 998.00,842.00 998.00,837.40" fill="#000" stroke="none"/>
<polygon points="1081.50,839.70 1093.50,837.40 1093.50,842.00" fill="#000" stroke="none"/>
<text x="0" y="0" font-size="16" text-anchor="start" transform="translate(1018.50 836.60) scale(1.045 1)" >G1-1/4"</text>
</svg>
</body></html>
